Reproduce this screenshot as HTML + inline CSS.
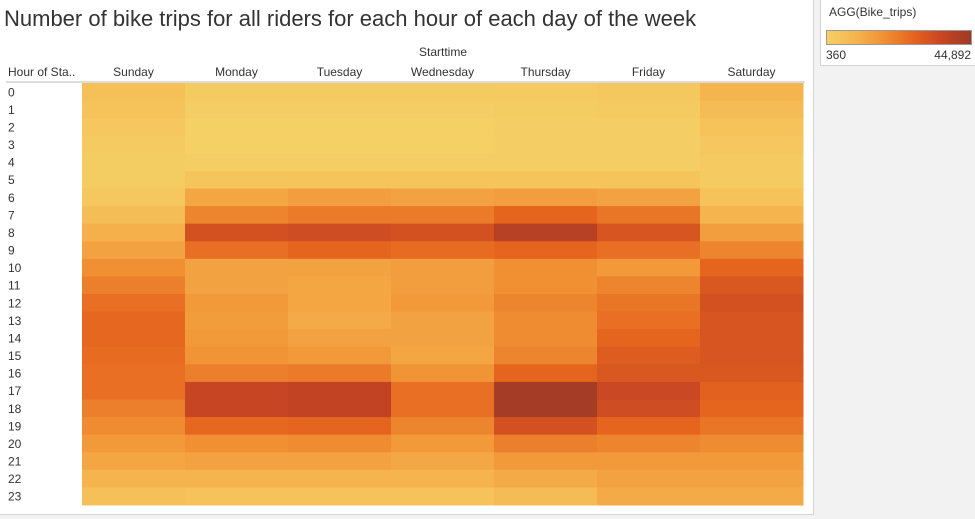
<!DOCTYPE html>
<html><head><meta charset="utf-8">
<style>
body{margin:0;width:975px;height:517px;overflow:hidden;background:#f2f2f2;font-family:"Liberation Sans",Arial,sans-serif}
#main{position:absolute;left:0;top:0;width:813px;height:514px;background:#fff;border-right:1px solid #d4d4d4;border-bottom:1px solid #d4d4d4}
#legend{position:absolute;left:820px;top:0;width:154px;height:65px;background:#fff;border:1px solid #d4d4d4;border-top:none;border-right:none}
</style></head><body>
<div id="main">
<svg id="chart" width="813" height="514"></svg>
</div>
<div id="legend">
<div style="position:absolute;left:8px;top:5px;font-size:12px;color:#333">AGG(Bike_trips)</div>
<div style="position:absolute;left:5px;top:30px;width:144px;height:13px;border:1px solid #999;background:linear-gradient(to right,#f4d166,#f6b44e,#f09033,#e5641e,#c74523,#9e3a26)"></div>
<div style="position:absolute;left:5px;top:48px;font-size:12px;color:#333">360</div>
<div style="position:absolute;right:4px;top:48px;font-size:12px;color:#333">44,892</div>
</div>
<script>
const days=["Sunday","Monday","Tuesday","Wednesday","Thursday","Friday","Saturday"];
const hours=["0","1","2","3","4","5","6","7","8","9","10","11","12","13","14","15","16","17","18","19","20","21","22","23"];
const sunday=[5700,4800,3480,2600,1700,1700,3480,6600,10150,13700,18200,21700,24800,26200,26200,25700,24800,24800,21700,19050,15900,12800,9260,5700];
const monday=[2140,1250,800,800,1250,3920,12800,20400,32400,24800,13700,13700,15900,15050,15900,17300,21700,36000,36000,26200,18200,13700,9260,4800];
const tuesday=[2140,1250,800,800,1250,3920,14600,22600,33700,27100,13700,12800,12800,11500,13700,15900,22600,37300,37300,27100,19050,13700,9260,4800];
const wednesday=[2140,1250,800,800,1250,3920,13700,22600,32400,25700,14600,14600,15900,13700,13700,12800,17300,24800,24800,20400,15900,12400,9260,4800];
const thursday=[2600,1700,1250,1250,1250,3920,14600,27100,39500,27100,18200,18200,20400,19050,19050,20400,27100,43500,43500,32400,21700,15900,11500,7000];
const friday=[3000,2140,1250,1250,1250,3920,13700,23500,31500,24800,15900,20400,23500,24800,27100,29300,30600,35100,33700,27100,20400,15900,13700,11500];
const saturday=[9260,7000,4800,3480,2600,2600,4800,9260,14600,20400,27100,30600,32400,31500,31500,31500,30600,28000,27100,23500,19050,15900,13700,11500];
const series=[sunday,monday,tuesday,wednesday,thursday,friday,saturday];
const vmin=360,vmax=44892;
const stops=["#f4d166","#f6b44e","#f09033","#e5641e","#c74523","#9e3a26"];
function hx(c){return [1,3,5].map(i=>parseInt(c.substr(i,2),16));}
function color(v){let t=Math.max(0,Math.min(1,(v-vmin)/(vmax-vmin)))*(stops.length-1);let i=Math.min(Math.floor(t),stops.length-2),f=t-i;const a=hx(stops[i]),b=hx(stops[i+1]);return "rgb("+a.map((x,k)=>Math.round(x+(b[k]-x)*f)).join(",")+")";}
const X0=82,CW=103,Y0=83,RH=(505-83)/24;
const xPos=i=>X0+i*CW, yPos=j=>Y0+j*RH;
const NS="http://www.w3.org/2000/svg",svg=document.getElementById("chart");
function mk(tag,attrs,txt){const e=document.createElementNS(NS,tag);for(const k in attrs)e.setAttribute(k,attrs[k]);if(txt!=null)e.textContent=txt;svg.appendChild(e);return e;}
let t=mk("text",{x:4,y:26,"font-size":22,fill:"#333"},"Number of bike trips for all riders for each hour of each day of the week");


t=mk("text",{x:443,y:56,"font-size":12,fill:"#333","text-anchor":"middle"},"Starttime");


t=mk("text",{x:8,y:76,"font-size":12,fill:"#333"},"Hour of Sta..");


let ln=mk("line",{x1:6,x2:805,y1:82,y2:82,stroke:"#d0d0d0","stroke-width":1.5});


days.forEach((d,i)=>{
  const e=mk("text",{x:xPos(i)+CW/2,y:76,"font-size":12,fill:"#333","text-anchor":"middle"},d);
  
  
});
hours.forEach((h,j)=>{
  const e=mk("text",{x:8,y:yPos(j)+RH/2+4.5,"font-size":12,fill:"#333"},h);
  
  
});
series.forEach((s,i)=>s.forEach((v,j)=>{
  const r=mk("rect",{x:xPos(i),y:yPos(j),width:CW+0.5,height:RH+0.5,fill:color(v)});
  
  
}));
</script>
</body></html>
